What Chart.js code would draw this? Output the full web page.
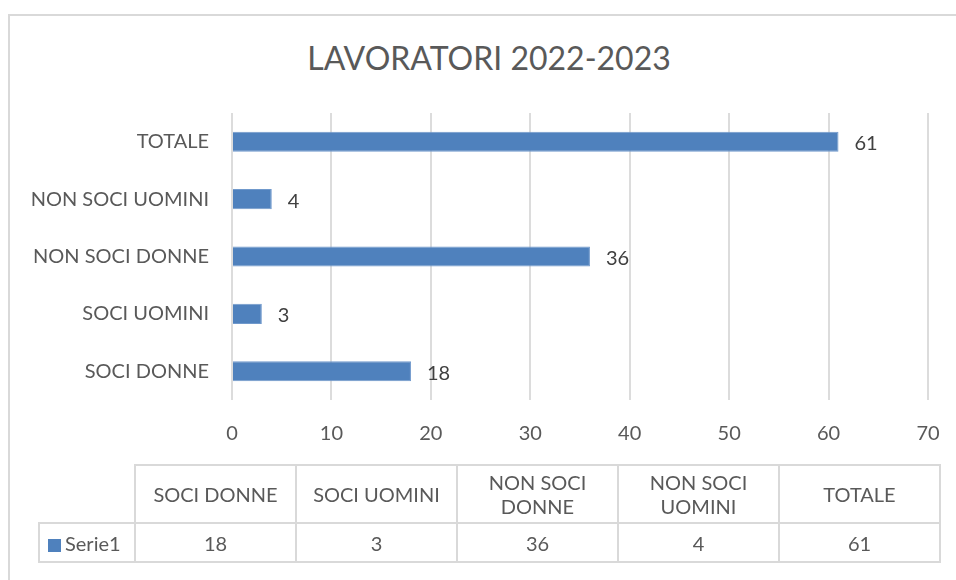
<!DOCTYPE html>
<html lang="it">
<head>
    <meta charset="UTF-8">
    <title>Lavoratori 2022-2023</title>
    <script src="https://cdn.jsdelivr.net/npm/chart.js"></script>
    <style>
        body {
            margin: 0;
            padding: 0;
            background: #ffffff;
            font-family: Lato, "Open Sans", sans-serif;
            overflow: hidden;
        }

        .wrap {
            position: relative;
            width: 956px;
            height: 580px;
        }

        .frame {
            position: absolute;
            left: 8px;
            top: 14px;
            width: 980px;
            height: 600px;
            border: 2px solid #d9d9d9;
        }

        .title {
            position: absolute;
            left: 0;
            top: 38px;
            width: 978px;
            text-align: center;
            font-size: 32px;
            line-height: 40px;
            color: #595959;
        }

        canvas {
            position: absolute;
            left: 0;
            top: 0;
        }

        /* data table under the chart */
        #dataTable {
            position: absolute;
            left: 38px;
            top: 464px;
            border-collapse: collapse;
            color: #595959;
            font-size: 20px;
            line-height: 24px;
        }

        #dataTable td {
            border: 2px solid #d9d9d9;
            text-align: center;
            padding: 0;
            width: 159px;
        }

        #dataTable tr.head td {
            height: 56px;
        }

        #dataTable tr.vals td {
            height: 37px;
        }

        #dataTable td.blank {
            border-top: none;
            border-left: none;
            width: 94px;
        }

        #dataTable td.legend {
            width: 86px;
            text-align: left;
            padding-left: 8px;
        }

        .swatch {
            display: inline-block;
            width: 13px;
            height: 13px;
            background: #4f81bd;
            margin-right: 4px;
            vertical-align: -1px;
        }
    </style>
</head>
<body>
<div class="wrap">
    <div class="frame"></div>
    <div class="title">LAVORATORI 2022-2023</div>
    <canvas id="chart" width="956" height="580"></canvas>
    <table id="dataTable"></table>
</div>

<script>
    // Data
    const categories = ['SOCI DONNE', 'SOCI UOMINI', 'NON SOCI DONNE', 'NON SOCI UOMINI', 'TOTALE'];
    const tableHeaders = ['SOCI DONNE', 'SOCI UOMINI', 'NON SOCI<br>DONNE', 'NON SOCI<br>UOMINI', 'TOTALE'];
    const seriesName = 'Serie1';
    const serie1 = [18, 3, 36, 4, 61];
    const xTicks = [0, 10, 20, 30, 40, 50, 60, 70];

    const textGray = '#595959';
    const barBlue = '#4f81bd';

    // value labels at the end of each bar
    const barLabels = {
        id: 'barLabels',
        afterDatasetsDraw(chart) {
            const ctx = chart.ctx;
            const meta = chart.getDatasetMeta(0);
            ctx.save();
            ctx.font = '20px Lato';
            ctx.fillStyle = '#404040';
            ctx.textBaseline = 'middle';
            ctx.textAlign = 'left';
            meta.data.forEach((bar, i) => {
                ctx.fillText(String(serie1[i]), bar.x + 16, bar.y + 2);
            });
            ctx.restore();
        }
    };

    const ctx = document.getElementById('chart').getContext('2d');
    new Chart(ctx, {
        type: 'bar',
        data: {
            labels: categories,
            datasets: [{
                label: seriesName,
                data: serie1,
                backgroundColor: barBlue,
                borderColor: '#7099cc',
                borderWidth: 1,
                barPercentage: 0.35,
                categoryPercentage: 1
            }]
        },
        options: {
            indexAxis: 'y',
            responsive: false,
            animation: false,
            layout: {
                padding: { left: 20, right: 28, top: 113, bottom: 130 }
            },
            plugins: {
                legend: { display: false },
                tooltip: { enabled: false },
                title: { display: false }
            },
            scales: {
                x: {
                    min: 0,
                    max: 70,
                    afterBuildTicks: scale => {
                        scale.ticks = xTicks.map(v => ({ value: v }));
                    },
                    grid: { color: '#dcdcdc', lineWidth: 2, drawTicks: false },
                    border: { display: false },
                    ticks: {
                        color: textGray,
                        font: { family: 'Lato', size: 20 },
                        padding: 22
                    },
                    afterFit: scale => {
                        scale.height = 50;
                        scale.paddingLeft = 0;
                        scale.paddingRight = 0;
                    }
                },
                y: {
                    reverse: true,
                    grid: { display: false, drawTicks: false },
                    border: { display: false },
                    ticks: {
                        color: textGray,
                        font: { family: 'Lato', size: 20 },
                        padding: 23
                    },
                    afterFit: scale => { scale.width = 212; }
                }
            }
        },
        plugins: [barLabels]
    });

    // Build the data table from the arrays
    const table = document.getElementById('dataTable');
    let headRow = '<tr class="head"><td class="blank"></td>';
    tableHeaders.forEach(h => { headRow += `<td>${h}</td>`; });
    headRow += '</tr>';
    let valRow = `<tr class="vals"><td class="legend"><span class="swatch"></span>${seriesName}</td>`;
    serie1.forEach(v => { valRow += `<td>${v}</td>`; });
    valRow += '</tr>';
    table.innerHTML = headRow + valRow;
</script>
</body>
</html>
